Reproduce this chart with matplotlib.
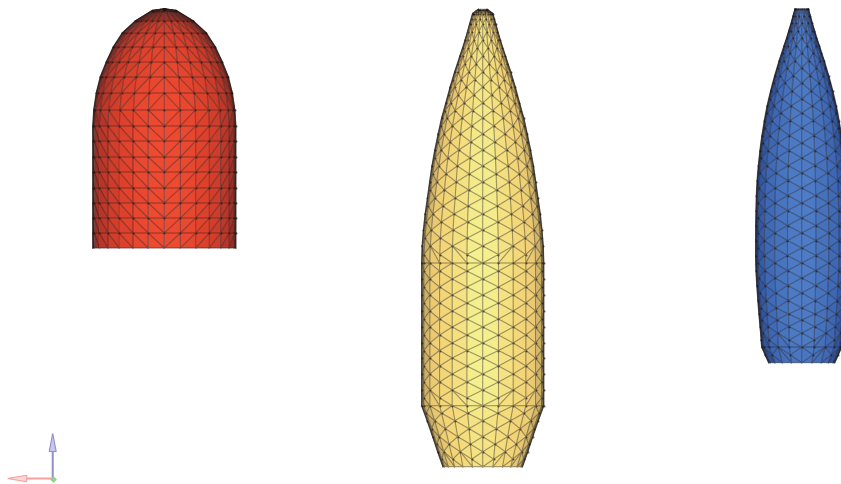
import numpy as np
import matplotlib
matplotlib.use('Agg')
import matplotlib.pyplot as plt
from matplotlib.colors import LinearSegmentedColormap
from matplotlib.tri import Triangulation

# profiles: pixel row and half width
red_y = [9, 10.5, 21, 33, 47, 62, 77, 93, 110, 126, 141, 157, 172, 188, 203, 218, 233, 248]
red_r = [1, 12, 29, 42, 51, 58, 64, 68, 70.5, 71.5, 71.5, 71.5, 71.5, 71.5, 71.5, 71.5, 71.5, 71.5]
red_center = 164.3
red_step = 13

yellow_y = [9.5, 13.5, 24, 40, 56, 72, 87, 103, 118, 134, 150, 166, 182, 198, 214, 230, 246, 263,
            279, 295, 311, 327, 343, 358, 374, 390, 405.7, 420.7, 436.7, 451.7, 466.7]
yellow_r = [4.5, 10, 13, 17.5, 22.7, 28, 32.5, 36.8, 41, 44.5, 47.8, 50.7, 53, 55.2, 57.5, 59.2, 60.5, 61,
            61, 61, 61, 61, 61, 61, 61, 61, 61, 55.5, 50, 45, 39.7]
yellow_center = 482.7
yellow_step = 15
yellow_rings = [13.5, 263, 405.7]

blue_y = [9, 23, 38, 53, 68, 83, 99, 113, 128, 143, 158, 173, 188, 203, 218, 233, 248, 263,
          278, 293, 308, 320, 333, 347, 362.7]
blue_r = [6.7, 10.5, 15, 20, 24.7, 29, 33, 36, 38.5, 40.8, 42.5, 44, 45, 45.5, 45.8, 46, 46, 46,
          45.3, 44.3, 43.2, 42.2, 41, 40, 33]
blue_center = 801.7
blue_step = 18
blue_rings = [347]

# brightness stop, colour
red_colors = [(0, '#6a1c14'), (0.3, '#9c3026'), (0.6, '#c63a2a'), (0.85, '#e0422c'), (1, '#ee4a32')]
yellow_colors = [(0, '#8a7a46'), (0.35, '#cdb066'), (0.62, '#f0d074'), (0.85, '#f4da7a'), (0.95, '#f5e484'), (1, '#f5f08e')]
blue_colors = [(0, '#1a3070'), (0.3, '#2c4f96'), (0.6, '#3b64b2'), (0.85, '#4470bc'), (1, '#4e7cc6')]

axis_x = 52.7
axis_y = 478.5
axis_len_up = 45
axis_len_left = 45


def column_rows(y, step_col, stagger, rings):
    if not stagger or step_col % 2 == 0:
        return list(y)
    y = np.array(y, dtype=float)
    mids = (y[:-1] + y[1:]) / 2
    return sorted(set([y[0], y[-1]] + list(mids) + list(rings)))


def draw_body(ax, y, r, cx, step, colors, stagger=False, rings=(), flip_above=None):
    n = int(round(90 / step))
    cols = list(range(-n, n + 1))
    xs, ys, thetas, starts = [], [], [], []
    for c in cols:
        rows = column_rows(y, abs(c), stagger, rings)
        th = np.radians(c * step)
        starts.append(len(xs))
        for v in rows:
            xs.append(cx + np.interp(v, y, r) * np.sin(th))
            ys.append(v)
            thetas.append(th)
    starts.append(len(xs))
    xs, ys, thetas = np.array(xs), np.array(ys), np.array(thetas)

    # join neighbouring columns from top to bottom
    tris = []
    for k in range(len(cols) - 1):
        a, a_end = starts[k], starts[k + 1] - 1
        b, b_end = starts[k + 1], starts[k + 2] - 1
        a_inner = abs(cols[k]) < abs(cols[k + 1])
        while a < a_end or b < b_end:
            if a == a_end:
                go_a = False
            elif b == b_end:
                go_a = True
            elif abs(ys[a + 1] - ys[b + 1]) < 1e-6:
                go_a = a_inner
                if flip_above is not None and ys[a + 1] < flip_above:
                    go_a = not a_inner
            else:
                go_a = ys[a + 1] < ys[b + 1]
            if go_a:
                tris.append([a, b, a + 1])
                a += 1
            else:
                tris.append([a, b, b + 1])
                b += 1
    tris = np.array(tris)

    # brightness from the facet normal, seen from the front
    slope = np.gradient(np.array(r, dtype=float), np.array(y, dtype=float))
    cy = ys[tris].mean(axis=1)
    ct = thetas[tris].mean(axis=1)
    shade = np.cos(ct) * np.cos(np.arctan(np.interp(cy, y, slope)))

    cmap = LinearSegmentedColormap.from_list('body', colors)
    tri = Triangulation(xs, ys, tris)
    ax.tripcolor(tri, facecolors=shade, cmap=cmap, vmin=0, vmax=1, edgecolors='face', linewidth=0.2)
    ax.triplot(tri, color=(0.12, 0.1, 0.1, 0.42), lw=0.8)
    inside = ys < max(y)
    ax.plot(xs[inside], ys[inside], ls='none', marker='o', ms=1.5, mew=0, color=(0.1, 0.08, 0.08, 0.6))

    # silhouette
    ax.plot(cx - np.array(r), y, color=(0.12, 0.1, 0.1, 0.6), lw=1.0)
    ax.plot(cx + np.array(r), y, color=(0.12, 0.1, 0.1, 0.6), lw=1.0)


fig = plt.figure(figsize=(8.41, 4.84), dpi=100)
ax = fig.add_axes([0, 0, 1, 1])

draw_body(ax, red_y, red_r, red_center, red_step, red_colors, flip_above=126)
draw_body(ax, yellow_y, yellow_r, yellow_center, yellow_step, yellow_colors, stagger=True, rings=yellow_rings)
draw_body(ax, blue_y, blue_r, blue_center, blue_step, blue_colors, stagger=True, rings=blue_rings)

# axis triad in the lower left corner
ax.arrow(axis_x, axis_y, 0, -axis_len_up, width=0.9, head_width=7, head_length=18,
         length_includes_head=True, fc='#c8c8ec', ec='#9090cc', lw=0.8)
ax.arrow(axis_x, axis_y, -axis_len_left, 0, width=0.9, head_width=6.5, head_length=19,
         length_includes_head=True, fc='#ffd8d8', ec='#f8a0a0', lw=0.8)
ax.plot([axis_x], [axis_y], marker='D', ms=3.5, mew=0, color='#90d488')

ax.set_xlim(0, 841)
ax.set_ylim(484, 0)
ax.axis('off')

fig.savefig('out.png', dpi=100)
